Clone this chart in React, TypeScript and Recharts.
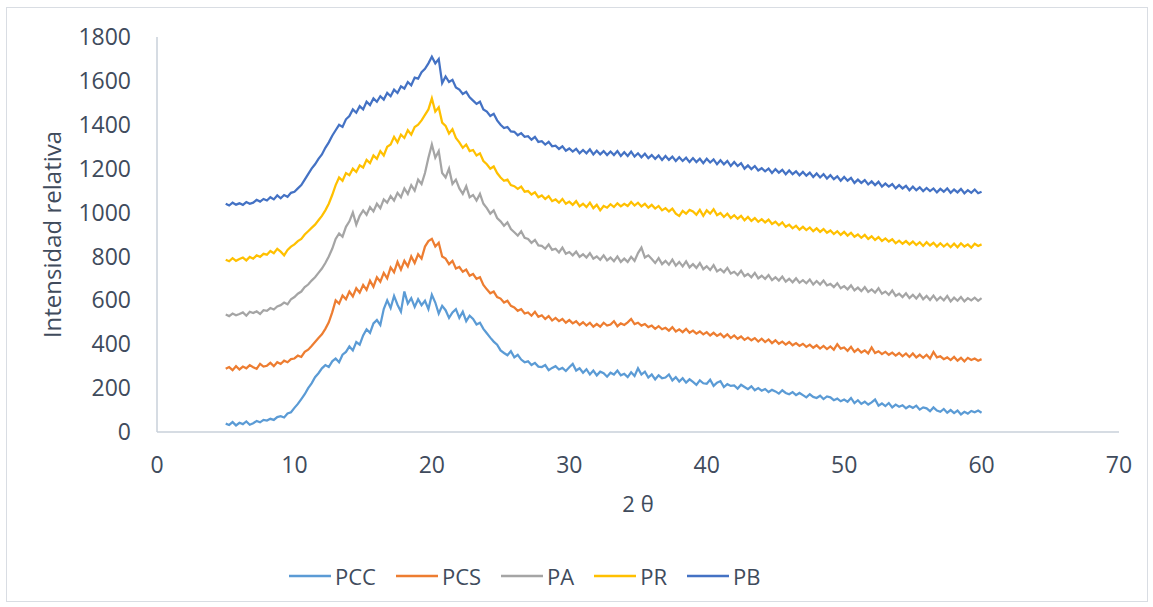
import { LineChart, Line, XAxis, YAxis } from "recharts"

// 2θ sampling: starts at 5°, one reading every 0.25°, up to 60°
const thetaStart = 5
const thetaStep = 0.25

const xTicks = [0, 10, 20, 30, 40, 50, 60, 70]
const yTicks = [0, 200, 400, 600, 800, 1000, 1200, 1400, 1600, 1800]

// intensities, one row = 5 degrees
const pcc = [
  38, 32, 45, 30, 42, 36, 48, 33, 40, 50, 44, 55, 52, 60, 55, 68, 72, 66, 84, 90,
  110, 128, 150, 172, 200, 222, 250, 268, 290, 305, 296, 322, 335, 318, 352, 365, 390, 372, 410, 398,
  440, 468, 452, 495, 510, 488, 560, 600, 565, 620, 580, 548, 640, 585, 610, 570, 605, 578, 598, 560,
  625, 590, 540, 575, 555, 520, 545, 560, 520, 548, 505, 530, 515, 490, 498, 470, 450, 430, 412, 398,
  372, 360, 350, 368, 340, 352, 330, 318, 322, 305, 315, 298, 296, 305, 282, 292, 300, 285, 292, 278,
  295, 310, 280, 290, 270, 286, 262, 280, 258, 275, 268, 252, 270, 262, 280, 258, 265, 250, 272, 255,
  290, 262, 275, 248, 262, 240, 258, 245, 248, 262, 235, 250, 230, 245, 225, 240, 228, 215, 235, 222,
  220, 238, 210, 225, 232, 205, 218, 210, 212, 198, 215, 205, 195, 208, 190, 200, 188, 196, 182, 192,
  185, 175, 190, 178, 172, 182, 168, 178, 168, 158, 172, 160, 155, 165, 150, 162, 158, 145, 152, 140,
  148, 138, 155, 132, 145, 128, 138, 125, 135, 148, 120, 130, 118, 132, 112, 125, 115, 122, 108, 118,
  110, 120, 102, 112, 108, 95, 112, 98, 92, 105, 88, 100, 86, 98, 80, 92, 84, 96, 90, 98,
  88,
]

const pcs = [
  288, 296, 282, 300, 285, 298, 290, 305, 295, 288, 310, 298, 302, 315, 300, 318, 310, 325, 318, 332,
  335, 348, 342, 365, 375, 392, 410, 428, 445, 470, 500, 545, 600, 585, 622, 605, 640, 618, 655, 635,
  670, 648, 690, 662, 705, 685, 725, 700, 750, 728, 775, 740, 780, 755, 800, 770, 810, 790, 845, 870,
  880, 845, 862, 800, 790, 765, 780, 745, 752, 730, 740, 712, 720, 698, 705, 670, 650, 632, 640, 615,
  608, 590, 598, 575, 568, 552, 560, 540, 545, 530, 548, 525, 532, 515, 528, 508, 520, 505, 515, 498,
  510, 495, 505, 488, 500, 485, 498, 480, 492, 480, 498, 485, 490, 505, 482, 495, 488, 500, 515, 492,
  498, 485, 492, 478, 485, 470, 482, 468, 475, 462, 478, 458, 468, 455, 470, 452, 462, 448, 458, 445,
  455, 440, 452, 438, 448, 432, 445, 428, 440, 425, 435, 420, 430, 418, 428, 412, 425, 410, 422, 405,
  418, 402, 412, 398, 410, 395, 405, 392, 402, 388, 398, 384, 395, 380, 392, 378, 390, 375, 400, 380,
  385, 370, 388, 365, 378, 362, 372, 358, 385, 360, 368, 355, 365, 352, 362, 348, 360, 345, 358, 342,
  358, 340, 352, 338, 352, 335, 365, 340, 345, 332, 340, 328, 342, 325, 338, 322, 338, 328, 335, 325,
  332,
]

const pa = [
  535, 528, 540, 532, 538, 545, 530, 548, 542, 550, 538, 555, 552, 565, 558, 572, 578, 590, 582, 605,
  615, 630, 640, 660, 672, 690, 705, 725, 745, 770, 800, 835, 880, 905, 890, 935, 960, 1000, 945, 985,
  1010, 990, 1025, 1005, 1040, 1020, 1060, 1045, 1075, 1055, 1090, 1070, 1110, 1085, 1125, 1100, 1150, 1130, 1180, 1250,
  1310, 1250, 1280, 1180, 1160, 1200, 1130, 1150, 1110, 1085, 1120, 1070, 1080, 1055, 1085, 1040, 1020, 995, 1010, 975,
  960, 940, 955, 925, 910, 895, 915, 885, 880, 862, 875, 850, 848, 835, 855, 830, 835, 818, 840, 812,
  820, 805, 822, 798, 810, 795, 815, 790, 800, 785, 805, 782, 795, 778, 800, 775, 790, 775, 798, 780,
  815, 840, 795, 805, 788, 770, 792, 765, 780, 762, 785, 758, 775, 755, 778, 750, 765, 748, 770, 742,
  755, 738, 760, 732, 742, 728, 748, 722, 730, 715, 735, 710, 720, 705, 725, 700, 712, 698, 715, 692,
  705, 690, 708, 685, 698, 682, 700, 680, 692, 678, 695, 672, 688, 672, 690, 668, 675, 660, 678, 655,
  665, 650, 668, 645, 658, 642, 660, 638, 650, 635, 655, 630, 640, 625, 645, 620, 630, 615, 632, 610,
  625, 608, 628, 605, 620, 602, 622, 600, 615, 600, 620, 595, 612, 598, 615, 595, 610, 600, 612, 598,
  610,
]

const pr = [
  785, 778, 792, 780, 788, 795, 782, 798, 790, 805, 798, 812, 808, 825, 815, 835, 822, 805, 830, 845,
  855, 870, 880, 900, 915, 930, 945, 965, 985, 1010, 1040, 1080, 1125, 1160, 1145, 1180, 1170, 1200, 1185, 1215,
  1205, 1240, 1225, 1260, 1245, 1280, 1260, 1300, 1310, 1345, 1320, 1355, 1340, 1375, 1355, 1390, 1400, 1420, 1445, 1470,
  1520, 1460, 1480, 1410, 1395, 1360, 1380, 1340, 1320, 1295, 1310, 1280, 1285, 1260, 1270, 1235, 1220, 1200, 1210, 1180,
  1160, 1145, 1150, 1125, 1120, 1108, 1118, 1095, 1098, 1082, 1092, 1070, 1078, 1062, 1075, 1052, 1060, 1045, 1062, 1040,
  1050, 1035, 1052, 1028, 1040, 1025, 1045, 1020, 1035, 1010, 1030, 1022, 1038, 1025, 1042, 1028, 1040, 1030, 1048, 1032,
  1045, 1028, 1040, 1022, 1035, 1018, 1030, 1010, 1020, 1005, 1018, 995, 985, 1008, 995, 1012, 1005, 990, 1012, 985,
  1010, 995, 1015, 988, 998, 980, 995, 975, 988, 972, 985, 965, 980, 962, 975, 958, 970, 955, 968, 948,
  958, 942, 955, 935, 945, 928, 940, 922, 935, 920, 932, 915, 928, 912, 925, 908, 918, 902, 915, 898,
  912, 895, 908, 890, 900, 885, 898, 880, 892, 875, 888, 870, 882, 868, 878, 860, 872, 858, 870, 855,
  868, 852, 865, 848, 865, 850, 862, 845, 860, 845, 858, 842, 858, 842, 860, 845, 855, 840, 858, 848,
  855,
]

const pb = [
  1040, 1032, 1045, 1036, 1042, 1035, 1048, 1040, 1045, 1058, 1050, 1062, 1055, 1070, 1060, 1078, 1065, 1080, 1072, 1090,
  1095, 1110, 1125, 1150, 1175, 1200, 1220, 1245, 1265, 1295, 1320, 1350, 1375, 1400, 1390, 1425, 1440, 1470, 1455, 1485,
  1470, 1505, 1490, 1520, 1505, 1530, 1515, 1545, 1530, 1560, 1545, 1575, 1565, 1595, 1580, 1615, 1610, 1640, 1655, 1680,
  1710, 1680, 1700, 1590, 1620, 1595, 1605, 1570, 1560, 1540, 1550, 1525, 1510, 1495, 1505, 1470, 1460, 1440, 1450, 1420,
  1400, 1385, 1390, 1370, 1368, 1352, 1362, 1345, 1348, 1332, 1345, 1322, 1325, 1310, 1322, 1302, 1305, 1290, 1302, 1282,
  1292, 1278, 1290, 1270, 1285, 1270, 1288, 1265, 1282, 1265, 1280, 1262, 1278, 1262, 1280, 1258, 1275, 1258, 1278, 1255,
  1270, 1252, 1268, 1248, 1262, 1245, 1260, 1240, 1258, 1240, 1255, 1235, 1252, 1235, 1250, 1230, 1248, 1230, 1245, 1225,
  1245, 1228, 1242, 1220, 1238, 1220, 1235, 1212, 1230, 1212, 1225, 1200, 1215, 1198, 1212, 1192, 1202, 1188, 1200, 1180,
  1198, 1182, 1195, 1175, 1192, 1175, 1188, 1170, 1185, 1168, 1182, 1162, 1178, 1160, 1175, 1155, 1170, 1152, 1165, 1145,
  1162, 1145, 1158, 1135, 1150, 1135, 1148, 1128, 1142, 1125, 1140, 1118, 1132, 1118, 1130, 1110, 1125, 1110, 1122, 1102,
  1118, 1102, 1115, 1098, 1112, 1098, 1110, 1092, 1108, 1095, 1110, 1090, 1105, 1092, 1108, 1088, 1102, 1090, 1105, 1088,
  1095,
]

const seriesNames = ["PCC", "PCS", "PA", "PR", "PB"]
const seriesColors = ["#5b9bd5", "#ed7d31", "#a5a5a5", "#ffc000", "#4472c4"]

const textColor = "#404b5c"
const axisColor = "#c9d0da"

const chartData = pcc.map((v, i) => ({
  x: thetaStart + i * thetaStep,
  PCC: v,
  PCS: pcs[i],
  PA: pa[i],
  PR: pr[i],
  PB: pb[i],
}))

function ChartLegend() {
  return (
    <div
      style={{
        position: "absolute",
        left: 289,
        top: 562,
        display: "flex",
        alignItems: "center",
        fontSize: 22,
        color: textColor,
      }}
    >
      {seriesNames.map((name, i) => (
        <div key={name} style={{ display: "flex", alignItems: "center", marginRight: 20 }}>
          <svg width={42} height={28}>
            <line x1={0} y1={14} x2={42} y2={14} stroke={seriesColors[i]} strokeWidth={2.5} />
          </svg>
          <span style={{ marginLeft: 4, lineHeight: "28px" }}>{name}</span>
        </div>
      ))}
    </div>
  )
}

export default function App() {
  return (
    <div
      style={{
        position: "absolute",
        left: 0,
        top: 0,
        width: 1153,
        height: 607,
        background: "#fff",
        fontFamily: "'Open Sans', 'Noto Sans', sans-serif",
      }}
    >
      <div
        style={{
          position: "absolute",
          left: 6,
          top: 7,
          width: 1140,
          height: 593,
          border: "1px solid #d9dde3",
        }}
      />
      <LineChart
        width={1153}
        height={607}
        data={chartData}
        margin={{ top: 37, right: 34, left: 0, bottom: 85 }}
        style={{ position: "absolute", left: 0, top: 0 }}
      >
        <XAxis
          dataKey="x"
          type="number"
          domain={[0, 70]}
          ticks={xTicks}
          height={90}
          tickLine={false}
          tickSize={0}
          tickMargin={25}
          stroke={axisColor}
          strokeWidth={1.5}
          tick={{ fill: textColor, fontSize: 23 }}
          label={{ value: "2 θ", position: "insideBottom", offset: 10, fill: textColor, fontSize: 22 }}
        />
        <YAxis
          type="number"
          domain={[0, 1800]}
          ticks={yTicks}
          width={157}
          tickLine={false}
          tickSize={0}
          tickMargin={26}
          stroke={axisColor}
          strokeWidth={1.5}
          tick={{ fill: textColor, fontSize: 23 }}
          label={{
            value: "Intensidad relativa",
            angle: -90,
            position: "insideLeft",
            offset: 52,
            fill: textColor,
            fontSize: 24,
            style: { textAnchor: "middle" },
          }}
        />
        {seriesNames.map((name, i) => (
          <Line
            key={name}
            type="linear"
            dataKey={name}
            stroke={seriesColors[i]}
            strokeWidth={2.25}
            dot={false}
            activeDot={false}
            isAnimationActive={false}
          />
        ))}
      </LineChart>
      <ChartLegend />
    </div>
  )
}
